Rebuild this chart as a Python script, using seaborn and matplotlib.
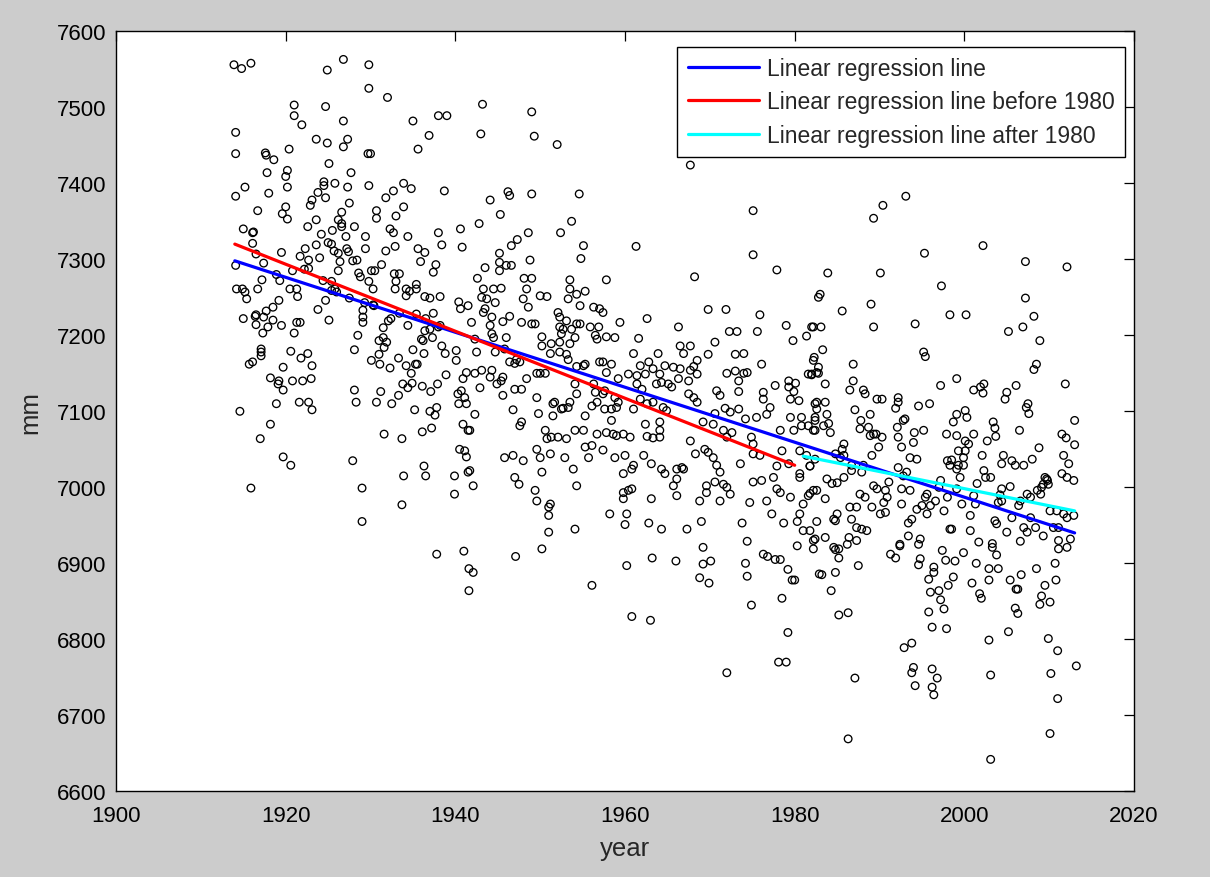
import matplotlib
matplotlib.use("Agg")
import matplotlib.pyplot as plt
import seaborn as sns
import pandas as pd

# ---------------- data ----------------
# scatter points: (year, mm)
pts_early_upper = [
    (1913.9,7556),(1914.8,7551),(1915.9,7558),(1924.9,7549),(1926.8,7563),(1929.8,7556),(1929.8,7525),(1932.0,7513),
    (1921.0,7503),(1924.7,7501),(1921.0,7489),(1921.9,7477),(1926.8,7482),(1935.0,7482),(1938.0,7489),(1939.0,7489),
    (1914.1,7467),(1923.6,7458),(1924.9,7453),(1927.3,7458),(1926.8,7448),(1936.9,7463),(1935.6,7445),(1914.1,7439),
    (1917.6,7440),(1917.7,7437),(1920.4,7445),(1918.6,7431),(1929.7,7439),(1930.0,7439),(1925.1,7426),(1917.8,7414),
    (1920.2,7417),(1920.0,7409),(1927.7,7414),(1915.2,7395),(1914.1,7383),(1918.0,7387),(1920.2,7395),(1924.5,7402),
    (1924.5,7397),(1925.8,7400),(1927.3,7395),(1929.8,7397),(1923.8,7388),(1923.1,7378),(1924.7,7381),(1922.9,7371),
    (1933.9,7400),(1934.8,7393),(1932.7,7390),(1931.8,7381),(1938.7,7390),(1916.7,7364),(1920.0,7369),(1919.6,7360),
    (1920.2,7353),(1927.5,7374),(1926.6,7362),(1926.2,7352),(1926.6,7347),(1926.6,7343),(1923.6,7352),(1922.6,7343),
    (1930.7,7364),(1930.7,7354),(1933.0,7357),(1933.9,7369),(1928.1,7343),(1927.1,7330),(1924.2,7333),(1925.5,7338),
    (1932.3,7340),(1932.7,7335),(1934.4,7330),(1929.4,7330),(1938.0,7335),(1940.6,7340),(1915.0,7340),(1916.1,7335),
    (1916.2,7336),(1916.1,7321),(1919.5,7309),(1921.7,7304),(1922.3,7314),(1923.6,7319),(1925.0,7322),(1925.4,7320),
    (1925.7,7311),(1926.2,7308),(1927.2,7314),(1927.4,7310),(1926.4,7297),(1927.9,7298),(1928.4,7299),(1924.0,7302),
    (1922.7,7299),(1929.4,7314),(1931.8,7311),(1932.9,7317),(1935.6,7314),(1936.4,7309),(1938.4,7319),(1940.8,7316),
    (1935.9,7297),(1937.7,7293),(1937.4,7283),(1931.3,7293),(1916.5,7307),(1914.1,7292),(1917.4,7295),(1920.8,7285),
    (1922.2,7287),(1922.7,7288),(1926.2,7285),(1924.4,7272),(1925.4,7271),(1928.6,7282),(1928.8,7277),(1930.1,7285),
    (1930.5,7285),(1932.8,7281),(1933.4,7281),(1917.2,7273),(1918.9,7280),(1919.3,7272),(1929.8,7271),(1933.0,7271),
    (1935.4,7267),(1914.2,7261),(1914.9,7261),(1916.7,7261),(1920.5,7261),(1921.3,7261),(1925.8,7261),(1930.3,7261),
    (1934.2,7261),(1935.4,7261),
]
pts_early_lower = [
    (1915.2,7257),(1915.4,7248),(1919.2,7246),(1918.5,7237),(1917.7,7232),(1916.5,7227),(1916.4,7225),(1915.0,7222),
    (1917.4,7224),(1918.5,7220),(1916.5,7214),(1919.5,7213),(1917.9,7211),(1917.3,7203),(1921.4,7251),(1921.3,7217),
    (1921.7,7217),(1921.0,7203),(1923.8,7234),(1925.1,7220),(1924.7,7246),(1925.4,7259),(1926.0,7257),(1928.5,7200),
    (1928.1,7181),(1929.1,7233),(1929.1,7224),(1929.1,7217),(1930.3,7240),(1931.5,7210),(1932.4,7222),(1932.1,7219),
    (1931.0,7193),(1931.9,7191),(1931.5,7197),(1931.6,7184),(1931.0,7175),(1930.1,7167),(1931.1,7162),(1932.3,7157),
    (1933.4,7229),(1934.4,7213),(1935.4,7228),(1936.5,7222),(1937.4,7229),(1938.2,7213),(1936.4,7206),(1937.0,7208),
    (1938.0,7211),(1936.0,7195),(1936.2,7193),(1937.3,7197),(1935.0,7181),(1936.3,7176),(1938.4,7186),(1938.8,7176),
    (1940.4,7244),(1940.6,7235),(1940.1,7180),(1940.1,7167),(1933.3,7170),(1934.2,7160),(1934.8,7150),(1935.3,7162),
    (1935.5,7162),(1938.9,7148),(1933.8,7136),(1934.4,7131),(1934.9,7137),(1936.1,7133),(1937.1,7126),(1937.9,7136),
    (1933.3,7121),(1932.5,7110),(1930.7,7112),(1931.2,7126),(1928.1,7128),(1928.3,7112),(1940.3,7123),(1941.3,7110),
    (1940.4,7110),(1935.2,7102),(1937.0,7100),(1937.8,7105),(1937.6,7095),(1936.1,7073),(1937.2,7078),(1940.9,7083),
    (1941.5,7075),(1931.6,7070),(1933.7,7064),(1941.3,7040),(1941.5,7020),(1936.3,7028),(1936.5,7015),(1933.9,7015),
    (1939.9,7015),(1939.9,6991),(1927.9,7035),(1929.0,6999),(1933.7,6977),(1929.0,6955),(1920.6,7179),(1922.6,7176),
    (1921.8,7170),(1923.1,7160),(1919.7,7158),(1920.8,7140),(1922.0,7140),(1923.0,7143),(1917.1,7182),(1917.1,7178),
    (1917.1,7173),(1915.7,7162),(1916.1,7165),(1918.2,7144),(1919.2,7140),(1919.1,7136),(1919.7,7128),(1918.9,7110),
    (1921.6,7112),(1922.7,7112),(1923.1,7102),(1914.6,7100),(1918.2,7083),(1917.0,7064),(1919.7,7040),(1920.6,7029),
    (1915.9,6999),(1927.5,7249),(1929.3,7243),(1930.4,7239),(1932.9,7261),(1934.2,7252),(1934.6,7258),(1936.4,7251),
    (1937.0,7249),(1938.2,7251),(1937.8,6912),(1941.0,6916),(1941.6,6893),(1941.6,6864),
]
pts_mid_upper = [
    (1943.2,7504),(1949.0,7494),(1943.0,7465),(1949.3,7462),(1952.0,7451),(1967.7,7424),(1946.2,7389),(1946.4,7384),
    (1944.1,7378),(1949.0,7386),(1954.6,7386),(1945.3,7359),(1942.8,7347),(1953.7,7350),(1948.6,7335),(1952.4,7335),
    (1947.3,7326),(1946.6,7318),(1955.1,7318),(1954.8,7301),(1961.3,7317),(1975.1,7364),(1975.1,7306),(1977.9,7286),
    (1968.2,7277),(1945.2,7308),(1945.2,7296),(1945.2,7285),(1946.0,7292),(1946.6,7292),(1943.5,7289),(1948.8,7299),
    (1942.6,7275),(1948.1,7275),(1949.0,7275),(1953.5,7273),(1957.8,7273),
]
pts_mid = [
    (1943.3,7261),(1944.5,7261),(1945.4,7262),(1943.1,7250),(1943.7,7248),(1944.7,7243),(1948.4,7261),(1948.0,7248),
    (1948.6,7237),(1950.0,7252),(1950.8,7251),(1953.5,7261),(1954.3,7254),(1955.3,7258),(1953.3,7248),(1954.7,7239),
    (1941.5,7239),(1943.5,7235),(1943.3,7230),(1944.3,7224),(1946.4,7225),(1945.6,7218),(1941.9,7217),(1947.8,7217),
    (1949.0,7215),(1949.4,7215),(1952.1,7230),(1952.3,7224),(1953.1,7219),(1954.3,7215),(1952.3,7211),(1952.7,7208),
    (1953.7,7208),(1954.7,7215),(1956.3,7237),(1957.0,7235),(1957.4,7230),(1955.9,7211),(1956.9,7211),(1959.4,7217),
    (1962.6,7222),(1966.3,7211),(1969.8,7234),(1971.9,7234),(1975.9,7227),(1979.0,7213),(1982.8,7250),(1982.0,7211),
    (1944.1,7213),(1944.3,7202),(1944.5,7197),(1942.3,7195),(1946.0,7197),(1942.5,7178),(1944.7,7178),(1945.8,7182),
    (1950.2,7198),(1950.2,7186),(1951.3,7189),(1952.3,7191),(1953.5,7189),(1952.5,7202),(1954.1,7197),(1956.5,7200),
    (1956.7,7195),(1957.8,7198),(1958.8,7197),(1961.6,7196),(1961.0,7176),(1963.9,7176),(1966.5,7186),(1967.7,7186),
    (1966.9,7176),(1968.5,7167),(1970.6,7191),(1972.3,7205),(1973.2,7205),(1975.6,7205),(1969.8,7175),(1973.0,7175),
    (1974.0,7176),(1976.1,7162),(1979.8,7193),(1981.4,7199),(1982.3,7171),(1941.3,7151),(1942.3,7150),(1940.9,7143),
    (1943.1,7154),(1944.3,7154),(1944.1,7145),(1945.6,7145),(1946.4,7165),(1947.0,7163),(1947.2,7168),(1947.6,7165),
    (1949.6,7150),(1950.0,7150),(1950.6,7150),(1951.2,7176),(1952.3,7178),(1953.1,7175),(1953.3,7168),(1954.3,7159),
    (1955.1,7160),(1955.3,7162),(1957.0,7165),(1957.4,7165),(1958.4,7162),(1957.8,7151),(1959.2,7143),(1960.4,7149),
    (1961.4,7147),(1962.4,7149),(1961.8,7160),(1962.8,7165),(1963.3,7156),(1964.1,7149),(1964.7,7160),(1965.7,7158),
    (1966.5,7156),(1967.7,7154),(1968.1,7159),(1966.3,7143),(1967.5,7140),(1968.5,7149),(1972.0,7150),(1973.0,7153),
    (1974.0,7150),(1974.4,7151),(1973.4,7140),(1977.7,7134),(1979.3,7140),(1980.1,7137),(1981.6,7149),(1982.0,7148),
    (1982.6,7151),(1982.8,7158),(1940.7,7127),(1941.1,7118),(1942.9,7131),(1944.9,7136),(1945.4,7140),(1947.0,7129),
    (1947.8,7129),(1945.6,7121),(1948.4,7143),(1949.6,7118),(1951.7,7112),(1952.5,7103),(1953.3,7105),(1953.5,7112),
    (1954.3,7123),(1954.1,7136),(1956.3,7136),(1956.5,7125),(1957.4,7123),(1957.6,7127),(1958.8,7118),(1959.2,7112),
    (1956.1,7107),(1956.7,7112),(1957.6,7103),(1958.4,7103),(1959.0,7105),(1961.4,7136),(1962.0,7129),(1961.8,7116),
    (1962.6,7110),(1963.7,7136),(1964.3,7138),(1965.1,7136),(1965.5,7132),(1964.9,7101),(1964.5,7105),(1963.3,7112),
    (1967.5,7123),(1968.1,7118),(1968.5,7112),(1970.8,7127),(1971.2,7121),(1970.6,7097),(1971.8,7104),(1973.4,7126),
    (1973.4,7103),(1972.4,7099),(1976.3,7125),(1976.3,7116),(1979.3,7132),(1979.5,7116),(1979.9,7126),(1980.5,7114),
    (1982.6,7112),(1977.1,7105),(1942.3,7096),(1946.8,7102),(1949.8,7097),(1951.5,7110),(1951.5,7094),(1952.7,7104),
    (1955.3,7094),(1947.8,7086),(1947.6,7081),(1941.7,7075),(1950.6,7075),(1950.8,7064),(1951.3,7066),(1952.1,7066),
    (1953.1,7064),(1954.1,7075),(1955.1,7075),(1956.7,7070),(1957.8,7072),(1958.6,7070),(1959.0,7068),(1959.8,7070),
    (1960.6,7066),(1962.4,7083),(1964.1,7086),(1964.1,7075),(1962.6,7067),(1963.3,7065),(1964.1,7066),(1958.4,7088),
    (1961.0,7103),(1969.2,7086),(1970.4,7083),(1971.6,7075),(1972.6,7072),(1972.0,7066),(1974.2,7090),(1975.5,7092),
    (1976.7,7096),(1978.3,7075),(1979.9,7075),(1980.8,7081),(1981.6,7081),(1982.4,7075),(1979.5,7092),(1980.8,7092),
    (1982.4,7092),(1974.9,7066),(1975.1,7057),(1940.5,7050),(1941.1,7048),(1941.7,7022),(1945.8,7039),(1946.8,7042),
    (1948.0,7035),(1949.6,7050),(1950.0,7039),(1951.2,7044),(1952.9,7039),(1953.9,7024),(1955.3,7053),(1956.1,7055),
    (1957.4,7049),(1955.7,7039),(1958.8,7039),(1960.0,7042),(1961.0,7029),(1960.8,7024),(1962.2,7042),(1963.1,7031),
    (1964.3,7024),(1966.1,7024),(1966.7,7026),(1967.7,7061),(1968.3,7044),(1969.4,7050),(1969.8,7046),(1970.4,7039),
    (1970.8,7029),(1971.2,7020),(1973.6,7031),(1975.1,7044),(1975.9,7042),(1978.5,7048),(1979.3,7031),(1980.6,7048),
    (1981.4,7042),(1981.8,7028),(1980.6,7018),(1982.4,7037),(1977.9,7028),(1942.1,7002),(1947.0,7013),(1947.5,7004),
    (1949.4,6996),(1949.6,6982),(1950.2,7020),(1951.2,6978),(1954.3,7002),(1959.8,7018),(1959.8,6993),(1960.4,6996),
    (1960.8,6998),(1959.8,6985),(1963.1,6985),(1965.7,7002),(1966.1,7011),(1966.9,7024),(1966.1,6989),(1964.7,7018),
    (1969.6,7002),(1970.6,7007),(1971.6,7004),(1972.0,7000),(1972.4,6991),(1969.6,6993),(1968.8,6982),(1971.2,6982),
    (1975.1,7007),(1976.1,7009),(1977.5,7013),(1977.9,6998),(1978.3,6993),(1976.7,6982),(1974.7,6980),(1980.6,7013),
    (1981.6,6989),(1981.0,6978),(1979.5,6987),(1982.2,6996),(1951.0,6974),(1951.0,6963),(1951.0,6941),(1954.1,6945),
    (1958.2,6965),(1960.2,6965),(1960.0,6951),(1962.8,6953),(1964.3,6945),(1967.3,6945),(1969.0,6955),(1973.8,6953),
    (1974.4,6929),(1977.3,6965),(1978.7,6953),(1980.3,6955),(1980.6,6965),(1981.0,6943),(1981.8,6943),(1982.2,6930),
    (1980.3,6923),(1969.2,6921),(1950.2,6919),(1976.3,6912),
]
pts_mid_lower = [
    (1942.1,6888),(1947.1,6909),(1956.1,6871),(1960.2,6897),(1963.2,6907),(1966.0,6903),(1969.2,6899),(1970.1,6903),
    (1968.8,6881),(1969.9,6874),(1960.8,6830),(1963.0,6825),(1974.2,6900),(1974.4,6883),(1974.9,6845),(1972.0,6756),
    (1976.8,6909),(1977.7,6905),(1978.3,6905),(1979.2,6892),(1979.7,6878),(1980.0,6878),(1978.5,6854),(1979.2,6809),
    (1978.1,6770),(1979.0,6770),(1982.9,6886),
]
pts_late_upper = [
    (1993.1,7383),(1990.4,7371),(1989.3,7354),(1995.3,7308),(2002.2,7318),(2007.2,7297),(2012.1,7290),(1983.9,7282),
    (1990.1,7282),(1997.3,7265),(1983.0,7254),
]
pts_late = [
    (1989.0,7241),(1985.6,7232),(2007.2,7249),(2008.2,7225),(1998.3,7227),(2000.2,7227),(1994.2,7215),(1989.3,7211),
    (1982.2,7211),(1983.1,7211),(2005.2,7205),(2006.9,7211),(2008.9,7193),(1983.3,7181),(1995.2,7178),(1995.4,7172),
    (1982.2,7167),(1986.9,7162),(2008.5,7162),(2008.2,7155),(1982.0,7149),(1982.8,7150),(1983.6,7136),(1986.9,7140),
    (1986.5,7128),(1988.1,7128),(1988.3,7123),(1989.7,7116),(1990.3,7116),(1992.2,7118),(1992.2,7112),(1991.9,7104),
    (1994.6,7107),(1995.9,7110),(1997.2,7134),(1999.1,7143),(2001.1,7128),(2001.9,7132),(2002.3,7136),(2002.2,7124),
    (2005.0,7125),(2004.8,7116),(2006.1,7134),(2011.9,7136),(1982.4,7110),(1983.6,7112),(1982.6,7103),(1983.8,7096),
    (1987.1,7102),(1988.9,7096),(1987.8,7088),(1988.7,7079),(1989.6,7070),(1990.3,7066),(1987.7,7077),(1982.4,7088),
    (1982.2,7075),(1983.4,7081),(1984.0,7084),(1984.2,7072),(1992.8,7088),(1993.0,7090),(1992.1,7079),(1992.2,7066),
    (1992.6,7053),(1994.0,7059),(1994.1,7072),(1995.2,7075),(1999.1,7096),(2000.1,7101),(2000.3,7092),(1998.7,7086),
    (1997.9,7070),(1999.1,7068),(2001.1,7070),(2003.4,7086),(2003.6,7078),(2003.7,7067),(2002.7,7061),(2006.5,7075),
    (2007.5,7110),(2007.6,7097),(2007.3,7105),(2011.5,7070),(2012.0,7065),(2013.0,7088),(2013.0,7056),(2000.1,7061),
    (2000.5,7057),(1999.3,7048),(2000.1,7048),(1999.9,7039),(2002.1,7042),(1998.0,7035),(1998.5,7036),(1998.3,7029),
    (1999.1,7024),(1999.5,7013),(1999.3,7029),(1999.9,7029),(1985.8,7057),(1985.6,7050),(1985.8,7042),(1985.4,7039),
    (1984.8,7044),(1989.1,7042),(1989.9,7053),(1988.9,7068),(1989.3,7070),(1992.2,7026),(1993.2,7020),(1993.6,7039),
    (1994.4,7037),(1992.8,7015),(1981.8,7028),(1986.7,7022),(1987.9,7020),(1988.1,7029),(1986.7,7029),(2004.6,7042),
    (2004.4,7031),(2005.6,7035),(2006.0,7029),(2007.0,7029),(2008.0,7037),(2008.8,7052),(2011.7,7042),(2012.3,7031),
    (2011.5,7018),(2012.1,7013),(2012.9,7009),(2009.5,7013),(2009.8,7009),(2009.9,7004),(2009.3,7004),(2009.1,7000),
    (2009.7,7011),(2002.3,7022),(2002.5,7013),(2003.1,7013),(2001.5,7005),(2005.4,7001),(2004.4,6998),(2004.2,6990),
    (2004.4,6982),(2004.0,6980),(1997.2,7009),(1997.0,7000),(1995.6,6991),(1995.4,6987),(1996.6,6982),(1995.0,6976),
    (1996.0,6976),(1998.0,6987),(1997.6,6969),(1999.1,6998),(1999.7,6978),(2001.1,6989),(2001.3,6978),(2000.7,6963),
    (1989.7,6998),(1990.7,6996),(1990.9,6987),(1990.5,6980),(1990.7,6967),(1990.1,6965),(1991.1,7007),(1989.3,7002),
    (1988.3,6987),(1987.7,6991),(1987.3,6974),(1986.5,6974),(1989.1,6974),(1985.8,7013),(1985.0,7006),(1984.4,7005),
    (1983.8,7011),(1982.6,6996),(1981.8,6992),(1983.6,6985),(1992.6,6998),(1992.6,6978),(1993.6,6996),(1994.4,6971),
    (1995.6,6965),(1993.8,6958),(2006.6,6982),(2007.4,6991),(2007.8,6987),(2008.6,6996),(2009.0,6991),(2006.4,6976),
    (2007.8,6960),(2005.6,6960),(2010.1,6969),(2010.9,6969),(2011.7,6965),(2010.5,6947),(2011.1,6947),(2012.1,6960),
    (2012.9,6963),(2003.6,6956),(2003.8,6952),(2005.0,6941),(2007.0,6947),(2007.4,6941),(2008.4,6947),(2009.3,6936),
    (1998.3,6945),(1998.5,6945),(2000.7,6943),(1982.6,6955),(1984.6,6958),(1985.0,6965),(1984.8,6956),(1986.7,6958),
    (1987.3,6947),(1987.9,6945),(1988.5,6943),(1993.4,6953),(1993.4,6936),(1994.8,6932),(1994.6,6925),(1992.4,6925),
    (2003.3,6926),(2006.6,6929),(2001.7,6928),(2011.1,6930),(2012.5,6932),(2011.1,6919),(2012.1,6921),(1982.4,6932),
    (1983.6,6934),(1984.6,6921),(1985.2,6919),(1986.2,6925),(1987.3,6930),(1986.4,6934),(1991.3,6912),(1997.4,6917),
    (1999.9,6914),
]
pts_late_lower = [
    (1982.2,6919),(1984.8,6918),(1985.2,6907),(1987.5,6897),(1983.2,6885),(1984.8,6888),(1984.3,6864),(1985.2,6832),
    (1986.3,6835),(1987.1,6749),(1986.3,6669),(1991.9,6907),(1992.4,6923),(1994.8,6906),(1994.6,6898),(1996.4,6895),
    (1996.4,6888),(1995.8,6879),(1996.0,6862),(1997.0,6864),(1997.2,6852),(1997.6,6840),(1995.8,6836),(1996.2,6816),
    (1997.9,6814),(1997.8,6904),(1998.9,6903),(1998.7,6882),(1998.1,6871),(1992.9,6789),(1993.8,6795),(1994.0,6763),
    (1993.8,6756),(1994.2,6739),(1996.2,6761),(1996.8,6749),(1996.2,6737),(1996.4,6727),(2001.4,6900),(2002.9,6893),
    (2002.9,6878),(2004.0,6893),(2003.3,6921),(2003.8,6911),(2000.9,6874),(2001.8,6860),(2002.0,6854),(2002.9,6799),
    (2003.1,6753),(2003.1,6642),(2005.4,6878),(2006.7,6885),(2006.1,6866),(2006.3,6866),(2006.0,6841),(2006.3,6834),
    (2005.2,6810),(2008.5,6893),(2009.5,6871),(2009.1,6857),(2008.9,6846),(2010.1,6849),(2010.7,6900),(2010.8,6878),
    (2009.9,6801),(2011.0,6785),(2010.2,6755),(2011.0,6722),(2010.1,6676),(2013.2,6765),
]

# regression lines (end points)
fit_all_year = [1914, 2013]
fit_all_mm = [7298, 6940]
fit_before_year = [1914, 1980]
fit_before_mm = [7320, 7029]
fit_after_year = [1981, 2013]
fit_after_mm = [7041, 6969]

legend_labels = ["Linear regression line",
                 "Linear regression line before 1980",
                 "Linear regression line after 1980"]
x_ticks = [1900, 1920, 1940, 1960, 1980, 2000, 2020]
y_ticks = [6600, 6700, 6800, 6900, 7000, 7100, 7200, 7300, 7400, 7500, 7600]

# ---------------- plotting ----------------
sns.set_style("white")
plt.rcParams["font.family"] = ["Liberation Sans", "DejaVu Sans"]

all_pts = (pts_early_upper + pts_early_lower + pts_mid_upper + pts_mid +
           pts_mid_lower + pts_late_upper + pts_late + pts_late_lower)
df = pd.DataFrame(all_pts, columns=["year", "mm"])

fig = plt.figure(figsize=(12.1, 8.78), dpi=100, facecolor="#cccccc")
ax = fig.add_axes([0.0959, 0.0976, 0.8413, 0.8656])
ax.set_facecolor("white")

sns.scatterplot(data=df, x="year", y="mm", ax=ax, marker="o", s=30,
                legend=False, zorder=2)
coll = ax.collections[0]
coll.set_facecolor("none")
coll.set_edgecolor("black")
coll.set_linewidth(0.95)

sns.lineplot(x=fit_all_year, y=fit_all_mm, ax=ax, color="#0000ff", lw=2.3,
             label=legend_labels[0], zorder=3)
sns.lineplot(x=fit_before_year, y=fit_before_mm, ax=ax, color="#ff0000", lw=2.3,
             label=legend_labels[1], zorder=3)
sns.lineplot(x=fit_after_year, y=fit_after_mm, ax=ax, color="#00ffff", lw=2.3,
             label=legend_labels[2], zorder=3)

ax.set_xlim(1900, 2020)
ax.set_ylim(6600, 7600)
ax.set_xticks(x_ticks)
ax.set_yticks(y_ticks)
ax.tick_params(direction="in", length=7.5, width=0.9, top=True, right=True,
               labelsize=16, colors="black")
ax.tick_params(axis="x", pad=10)
ax.tick_params(axis="y", pad=7)
for sp in ax.spines.values():
    sp.set_visible(True)
    sp.set_color("black")
    sp.set_linewidth(1.0)

ax.set_xlabel("year", fontsize=18.5, labelpad=7)
ax.set_ylabel("mm", fontsize=18.5, labelpad=10)

leg = ax.legend(loc="upper right", bbox_to_anchor=(0.991, 0.980), borderaxespad=0,
                fontsize=16.5, frameon=True, fancybox=False, edgecolor="black",
                framealpha=1, handlelength=3.1, handletextpad=0.35,
                labelspacing=0.46, borderpad=0.45)
leg.get_frame().set_linewidth(1.0)

fig.savefig("out.png", dpi=100, facecolor=fig.get_facecolor())
